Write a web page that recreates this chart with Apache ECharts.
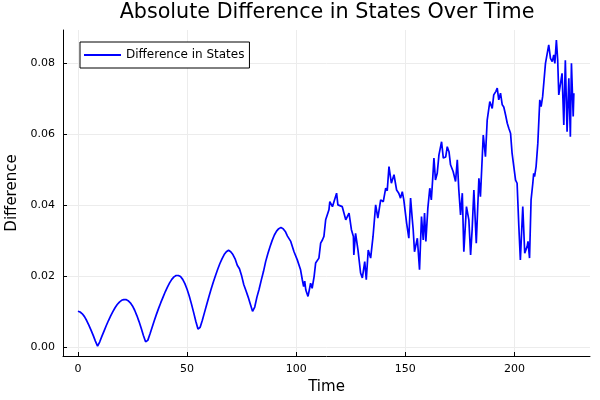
<!DOCTYPE html>
<html><head><meta charset="utf-8">
<script src="https://cdn.jsdelivr.net/npm/echarts@6/dist/echarts.min.js"></script>
<style>html,body{margin:0;padding:0;background:#fff}#c{width:600px;height:400px}</style>
</head><body><div id="c"></div>
<script>
const titleText = "Absolute Difference in States Over Time";
const seriesName = "Difference in States";
const xTicks = [0, 50, 100, 150, 200];
const yTicks = [0, 0.02, 0.04, 0.06, 0.08];

const time = [
 0,1,2,3,4,5,6,7,8,9,10,11,12,13,14,15,16,17,18,19,20,21,22,23,24,25,26,27,28,29,
 30,31,32,33,34,35,36,37,38,39,40,41,42,43,44,45,46,47,48,49,50,51,52,53,54,55,56,57,58,59,
 60,61,62,63,64,65,66,67,68,69,70,71,72,73,74,75,76,77,78,79,80,81,82,83,84,85,86,87,88,89,
 90,91,92,93,94,95,96,97.5,99,100.5,102,102.8,103.4,103.9,104.4,105.4,106,106.6,107.3,108.2,108.9,110.4,111.2,112,112.7,113.5,115,115.4,
 116.6,117.3,118.5,119.1,121.1,122.7,124.2,125.3,126.2,126.4,127.2,128.3,129.5,130.3,131.4,132.1,133,134.1,135.2,136.4,137.4,138.7,139.9,
 141,141.7,142.5,143.6,144.8,146,147,147.8,148.6,149.3,150.6,151.6,152.4,153.2,153.6,154.2,155.5,156.5,157.4,158.2,158.8,159.4,160.3,
 161.2,161.9,162.5,163.1,163.8,164.6,165.4,166.2,166.6,167.4,168.5,169.2,170,170.7,171.9,173,173.8,174.5,175.3,176.1,176.8,178,179.1,
 179.9,180.6,181.4,182.5,183.7,184.4,185.7,186.7,187.5,188.7,189.8,190.5,191.5,192.1,192.8,193.6,194.4,195.1,195.9,196.7,197.4,198.2,
 198.9,199.7,200.5,201.2,202,202.7,203.8,204.7,205.8,206.2,206.9,207.6,208.4,208.8,209.2,209.9,210.7,211.6,212.2,212.9,214.2,215,215.7,
 216.5,217.3,218,218.5,219.2,219.8,220.3,221.1,221.8,222.6,223.3,224.1,224.9,225.6,226.1,226.9,227.2
];
const difference = [
 0.0100,0.0098,0.0093,0.0085,0.0074,0.0061,0.0047,0.0032,0.0016,0.0002,0.0014,0.0030,0.0045,0.0060,0.0074,0.0087,0.0099,0.0110,0.0119,0.0126,0.0131,0.0133,0.0133,0.0130,0.0124,0.0115,0.0103,0.0088,0.0071,0.0052,
 0.0032,0.0014,0.0018,0.0036,0.0055,0.0074,0.0092,0.0109,0.0125,0.0140,0.0155,0.0168,0.0180,0.0190,0.0197,0.0201,0.0201,0.0198,0.0190,0.0178,0.0162,0.0143,0.0121,0.0097,0.0072,0.0050,0.0055,0.0075,0.0097,0.0119,
 0.0141,0.0162,0.0182,0.0200,0.0218,0.0234,0.0248,0.0260,0.0268,0.0272,0.0268,0.0260,0.0248,0.0230,0.0220,0.0200,0.0175,0.0158,0.0140,0.0120,0.0100,0.0112,0.0140,0.0162,0.0188,0.0212,0.0240,0.0262,0.0282,0.0300,
 0.0315,0.0326,0.0333,0.0336,0.0333,0.0325,0.0312,0.0297,0.0268,0.0245,0.0217,0.0189,0.0170,0.0185,0.0160,0.0142,0.0160,0.0179,0.0165,0.0198,0.0236,0.0250,0.0292,0.0301,0.0311,0.0358,0.0386,0.0409,
 0.0395,0.0400,0.0433,0.0400,0.0395,0.0358,0.0377,0.0330,0.0311,0.0259,0.0320,0.0273,0.0208,0.0194,0.0240,0.0189,0.0273,0.0250,0.0311,0.0400,0.0363,0.0414,0.0409,
 0.0447,0.0440,0.0508,0.0461,0.0485,0.0442,0.0433,0.0419,0.0437,0.0414,0.0348,0.0306,0.0419,0.0358,0.0330,0.0268,0.0306,0.0217,0.0367,0.0301,0.0377,0.0297,0.0390,
 0.0447,0.0414,0.0470,0.0532,0.0470,0.0489,0.0541,0.0545,0.0578,0.0532,0.0535,0.0564,0.0550,0.0513,0.0494,0.0466,0.0527,0.0442,0.0372,0.0433,0.0268,0.0395,0.0358,
 0.0259,0.0330,0.0442,0.0292,0.0475,0.0423,0.0597,0.0536,0.0639,0.0691,0.0672,0.0710,0.0720,0.0729,0.0696,0.0715,0.0682,0.0676,0.0654,0.0630,0.0616,0.0602,
 0.0546,0.0508,0.0470,0.0461,0.0339,0.0245,0.0395,0.0264,0.0283,0.0297,0.0250,0.0414,0.0461,0.0489,0.0480,0.0508,0.0574,0.0696,0.0677,0.0705,0.0799,0.0804,0.0851,
 0.0813,0.0804,0.0823,0.0799,0.0865,0.0808,0.0710,0.0705,0.0771,0.0625,0.0808,0.0606,0.0757,0.0592,0.0799,0.0649,0.0715
];

const data = time.map((t, i) => [t, difference[i]]);
const font = "DejaVu Sans";
const chart = echarts.init(document.getElementById('c'));
chart.setOption({
  animation: false,
  backgroundColor: '#fff',
  title: { text: titleText, left: 327, top: 2, textAlign: 'center', padding: 0,
    textStyle: { fontFamily: font, fontSize: 20.7, fontWeight: 'normal', color: '#000' } },
  legend: {
    left: 80, top: 42, orient: 'vertical',
    data: [{ name: seriesName, icon: 'rect' }],
    itemWidth: 37, itemHeight: 2, itemGap: 4,
    padding: [7, 5, 7, 4],
    borderColor: '#000', borderWidth: 1, backgroundColor: '#fff',
    textStyle: { fontFamily: font, fontSize: 12, color: '#000' }
  },
  grid: { left: 63, right: 10, top: 30, bottom: 44, containLabel: false, outerBoundsMode: 'none' },
  xAxis: {
    type: 'value', min: -6.84, max: 234.6,
    name: 'Time', nameLocation: 'middle', nameGap: 24,
    nameTextStyle: { fontFamily: font, fontSize: 15, color: '#000' },
    axisLine: { onZero: false, lineStyle: { color: '#000', width: 1 } },
    axisTick: { inside: true, length: 4, customValues: xTicks, lineStyle: { color: '#000' } },
    axisLabel: { customValues: xTicks, fontFamily: font, fontSize: 11, color: '#000', margin: 8 },
    splitLine: { show: true, lineStyle: { color: '#ececec', width: 1 } }
  },
  yAxis: {
    type: 'value', min: -0.0026, max: 0.0893,
    name: 'Difference', nameLocation: 'middle', nameGap: 43,
    nameTextStyle: { fontFamily: font, fontSize: 15, color: '#000' },
    axisLine: { show: true, onZero: false, lineStyle: { color: '#000', width: 1 } },
    axisTick: { show: true, inside: true, length: 4, customValues: yTicks, lineStyle: { color: '#000' } },
    axisLabel: { customValues: yTicks, fontFamily: font, fontSize: 11, color: '#000', margin: 8,
      formatter: v => v.toFixed(2) },
    splitLine: { show: true, lineStyle: { color: '#ececec', width: 1 } }
  },
  series: [{
    name: seriesName, type: 'line', data: data, showSymbol: false, symbol: 'none',
    lineStyle: { color: '#0000ff', width: 1.7 }, itemStyle: { color: '#0000ff' }
  }]
});
</script></body></html>
